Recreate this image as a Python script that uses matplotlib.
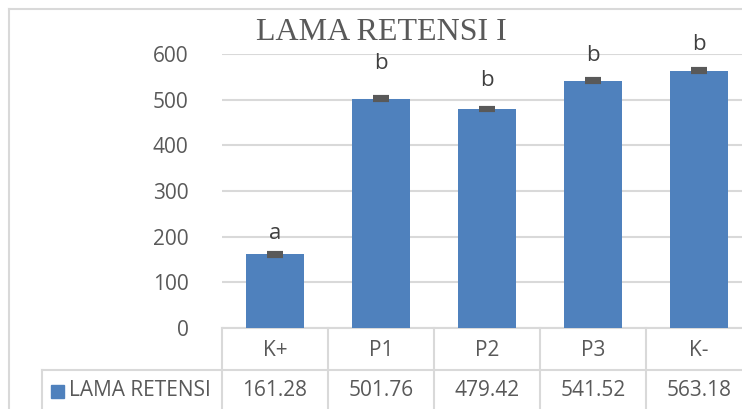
import matplotlib
matplotlib.use("Agg")
import matplotlib.pyplot as plt
from matplotlib.patches import Rectangle

categories = ["K+", "P1", "P2", "P3", "K-"]
values = [161.28, 501.76, 479.42, 541.52, 563.18]
errors = [3, 3, 3, 3, 3]
letters = ["a", "b", "b", "b", "b"]
letter_y = [206, 580, 543, 597, 620]
series_name = "LAMA RETENSI"
title = "LAMA RETENSI I"
yticks = [0, 100, 200, 300, 400, 500, 600]

W, H = 742, 409
bar_c, grid_c, txt_c = "#4f81bd", "#d9d9d9", "#595959"
font = "Open Sans"
fs = 15

fig = plt.figure(figsize=(W / 100, H / 100), dpi=100)
px = lambda x: x / W
py = lambda y: 1 - y / H

x0, colw, y0, y600 = 222, 106, 328, 54
ax = fig.add_axes([px(x0), py(y0), 5 * colw / W, (y0 - y600) / H])
xs = list(range(len(categories)))
ax.bar(xs, values, width=0.555, color=bar_c, zorder=3)
ax.errorbar(xs, values, yerr=errors, fmt="none", ecolor="#595959",
            elinewidth=2, capsize=6, capthick=3, zorder=4)
for x, t, ly in zip(xs, letters, letter_y):
    ax.text(x, ly, t, ha="center", va="center", fontsize=16, color="#404040", family=font)
ax.set_xlim(-0.5, 4.5)
ax.set_ylim(0, 600)
ax.set_yticks(yticks)
ax.set_yticklabels([str(v) for v in yticks], fontsize=fs, color=txt_c, family=font)
ax.tick_params(axis="y", length=0, pad=24)
ax.set_xticks([])
ax.grid(axis="y", color=grid_c, lw=1.5, zorder=0)
for s in ["top", "right", "left"]:
    ax.spines[s].set_visible(False)
ax.spines["bottom"].set_color(grid_c)
ax.spines["bottom"].set_linewidth(1.5)
ax.patch.set_alpha(0)

fig.text(px(381), py(33), title, ha="center", va="center", fontsize=23,
         color=txt_c, family="Liberation Serif")

# outer chart border
fig.add_artist(plt.Line2D([px(9), px(W)], [py(9), py(9)], color=grid_c, lw=1.5))
fig.add_artist(plt.Line2D([px(9), px(9)], [py(9), py(H)], color=grid_c, lw=1.5))

# data table
row1, row2 = 370, 409
fig.add_artist(plt.Line2D([px(42), px(W)], [py(row1), py(row1)], color=grid_c, lw=1.5))
fig.add_artist(plt.Line2D([px(42), px(42)], [py(row1), py(row2)], color=grid_c, lw=1.5))
for i in range(len(categories) + 1):
    xl = x0 + i * colw
    fig.add_artist(plt.Line2D([px(xl), px(xl)], [py(y0), py(row2)], color=grid_c, lw=1.5))
for i, (c, v) in enumerate(zip(categories, values)):
    xc = x0 + (i + 0.5) * colw
    fig.text(px(xc), py(350), c, ha="center", va="center", fontsize=fs, color=txt_c, family=font)
    fig.text(px(xc), py(391), f"{v:.2f}", ha="center", va="center", fontsize=fs, color=txt_c, family=font)
fig.add_artist(Rectangle((px(51), py(398)), 13 / W, 13 / H, color=bar_c))
fig.text(px(69), py(391), series_name, ha="left", va="center", fontsize=fs, color=txt_c, family=font)

fig.savefig("out.png", dpi=100)
